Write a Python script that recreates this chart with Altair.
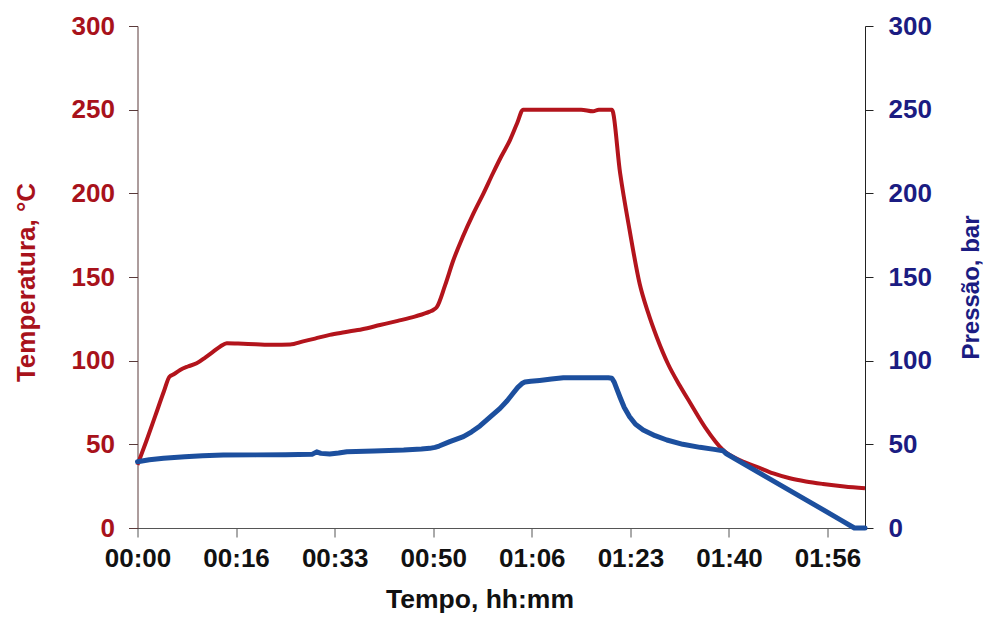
import altair as alt
import pandas as pd

# Temperature series (minutes, °C)
temp_time = [0, 1.5, 3, 4.5, 5.4, 6.2, 7.2, 8.5, 10, 11.5, 12.8, 14, 15.1, 17, 20, 23, 25.8,
             28, 30, 32.5, 35, 38, 41, 44, 47, 49.4, 50, 50.6, 52, 53.4, 55, 56.8, 58.5,
             60.1, 61.5, 63, 64.2, 65.2, 70, 75, 77, 78, 80.2, 81.6, 83.2, 84.9, 86.3,
             87.8, 89.7, 91.7, 93.4, 96, 99, 101.5, 104.7, 107.5, 110.3, 113, 115.9, 119.5, 123]
temp_vals = [37.7, 52, 67, 82, 90.4, 92, 94.4, 96.5, 98.4, 102, 105.4, 108.5, 110.4, 110.2,
             109.8, 109.5, 109.6, 111.5, 113.2, 115.4, 117, 118.8, 121.3, 123.8, 126.5, 129.3,
             130.3, 132, 145, 160, 174, 188, 200, 212, 222, 232, 242, 250, 250, 250, 249, 250,
             250, 212, 178, 146, 129, 114, 98, 85, 75, 60, 46.6, 41, 36.6, 32.6, 29.7, 27.8,
             26.3, 24.8, 23.7]

# Pressure series (minutes, bar)
pres_time = [0, 2, 4.4, 8, 11, 14.5, 20, 25, 29.5, 30.3, 31, 32.5, 34, 35.4, 40, 45, 48,
             49.4, 50.3, 51, 52.8, 55.1, 56.5, 57.9, 59.5, 61.3, 62.5, 63.5, 64.3, 65, 65.5,
             66.5, 68, 70, 72, 76, 79.6, 80.2, 80.6, 81.1, 81.6, 82.3, 83.2, 84.2, 85.5, 87.5,
             89.5, 92.2, 95.1, 97.5, 99, 99.5, 106, 113.1, 119, 121.2, 123]
pres_vals = [39.6, 40.8, 41.7, 42.6, 43.2, 43.6, 43.7, 43.8, 44.0, 45.5, 44.6, 44.2, 44.8,
             45.6, 46.0, 46.6, 47.2, 47.6, 48.2, 49, 51.6, 54.6, 57.5, 61, 66, 71.5, 76, 80.5,
             84, 86.3, 87.2, 87.7, 88.2, 89.0, 89.8, 89.8, 89.8, 89.5, 87.2, 82.5, 78, 72, 66.5,
             62, 58.6, 55.2, 52.6, 50, 48.2, 47.0, 46.2, 44.5, 31.2, 16.7, 4.6, 0, 0]

x_tick_values = [0, 50 / 3, 100 / 3, 50, 200 / 3, 250 / 3, 100, 350 / 3]
x_tick_labels = ["00:00", "00:16", "00:33", "00:50", "01:06", "01:23", "01:40", "01:56"]
y_ticks = [0, 50, 100, 150, 200, 250, 300]

RED = "#B3141C"
RED_TXT = "#A8121B"
BLUE = "#1C4F9E"
BLUE_TXT = "#1B1C82"
FONT = "Liberation Sans"

temp_df = pd.DataFrame({"t": temp_time, "v": temp_vals})
pres_df = pd.DataFrame({"t": pres_time, "v": pres_vals})

label_expr = "[" + ",".join(f"'{l}'" for l in x_tick_labels) + "][round(datum.value*3/50)]"

x_enc = alt.X(
    "t:Q",
    scale=alt.Scale(domain=[0, 123], nice=False, zero=False),
    axis=alt.Axis(
        values=x_tick_values, labelExpr=label_expr, title="Tempo, hh:mm", grid=False,
        labelFlush=False, labelOverlap=False,
        tickSize=9, tickColor="#555555", domainColor="#555555", labelColor="#111111",
        labelPadding=8, labelFontSize=26, titleFontSize=26.5, titleColor="#111111",
        titleX=342, titleY=58, titleBaseline="top", titleAlign="center",
    ),
)

red = alt.Chart(temp_df).mark_line(
    color=RED, strokeWidth=4, strokeJoin="round", interpolate="monotone"
).encode(
    x=x_enc,
    y=alt.Y(
        "v:Q",
        scale=alt.Scale(domain=[0, 300], nice=False),
        axis=alt.Axis(
            orient="left", values=y_ticks, title="Temperatura, °C", grid=False,
            tickSize=9, tickColor="#5a3a3a", domainColor="#5a3a3a", labelColor=RED_TXT,
            labelPadding=14, labelFontSize=26, titleFontSize=26, titleColor=RED_TXT,
            titleAngle=270, titleX=-124, titleY=256, titleBaseline="top", titleAlign="center",
        ),
    ),
)

blue = alt.Chart(pres_df).mark_line(
    color=BLUE, strokeWidth=5, strokeJoin="round", strokeCap="round"
).encode(
    x=x_enc,
    y=alt.Y(
        "v:Q",
        scale=alt.Scale(domain=[0, 300], nice=False),
        axis=alt.Axis(
            orient="right", values=y_ticks, title="Pressão, bar", grid=False,
            tickSize=8, tickColor="#222222", domainColor="#222222", labelColor=BLUE_TXT,
            labelPadding=15, labelFontSize=26, titleFontSize=24, titleColor=BLUE_TXT,
            titleAngle=270, titleX=94, titleY=261, titleBaseline="top", titleAlign="center",
        ),
    ),
)

chart = (
    alt.layer(red, blue)
    .resolve_scale(y="independent")
    .properties(
        width=727.5, height=502,
        padding={"left": 129.5, "top": 18, "right": 118, "bottom": 86},
        autosize=alt.AutoSizeParams(type="none"),
    )
    .configure_view(stroke=None)
    .configure_axis(labelFont=FONT, titleFont=FONT, labelFontWeight="bold", titleFontWeight="bold")
)

chart.save("out.html", embed_options={"renderer": "svg", "actions": False})
